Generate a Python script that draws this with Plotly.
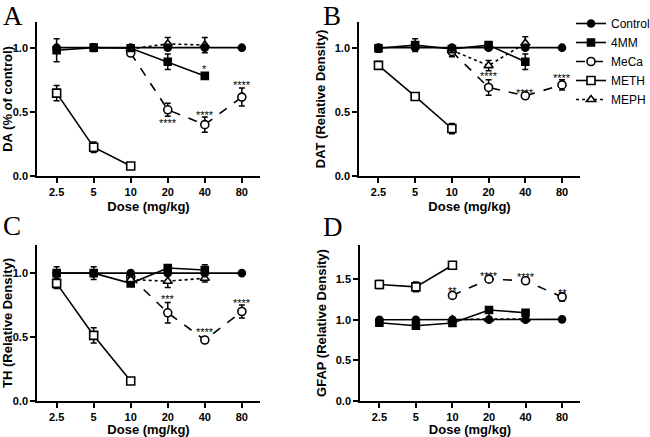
import math
import plotly.graph_objects as go

doses = [2.5, 5, 10, 20, 40, 80]
tick_labels = ["2.5", "5", "10", "20", "40", "80"]
series_names = ["Control", "4MM", "MeCa", "METH", "MEPH"]

# Panel A: DA
A_control = [1.0, 1.0, 1.0, 1.0, 1.0, 1.0]
A_control_err = [0.01, 0.01, 0.01, 0.01, 0.01, 0.01]
A_4mm = [0.98, 1.0, 0.995, 0.89, 0.78, None]
A_4mm_err = [0.09, 0.03, 0.02, 0.06, 0.02, 0]
A_meca = [None, None, 0.958, 0.516, 0.40, 0.615]
A_meca_err = [0, 0, 0.02, 0.05, 0.06, 0.07]
A_meth = [0.646, 0.224, 0.078, None, None, None]
A_meth_err = [0.06, 0.04, 0.01, 0, 0, 0]
A_meph = [None, None, 0.99, 1.03, 1.02, None]
A_meph_err = [0, 0, 0.02, 0.05, 0.06, 0]
A_stars = ["", "", "", "****", "****", "****"]
A_star_y = [None, None, None, 0.44, 0.50, 0.73]
A_4mm_star_y = [None, None, None, None, 0.86, None]
A_4mm_stars = ["", "", "", "", "*", ""]

# Panel B: DAT
B_control = [1.0, 1.0, 1.0, 1.0, 1.0, 1.0]
B_control_err = [0.01, 0.01, 0.01, 0.01, 0.01, 0.01]
B_4mm = [0.995, 1.02, 0.99, 1.02, 0.89, None]
B_4mm_err = [0.03, 0.05, 0.02, 0.02, 0.06, 0]
B_meca = [None, None, 0.97, 0.69, 0.625, 0.71]
B_meca_err = [0, 0, 0.04, 0.06, 0.02, 0.04]
B_meth = [0.862, 0.62, 0.37, None, None, None]
B_meth_err = [0.03, 0.02, 0.04, 0, 0, 0]
B_meph = [None, None, 0.98, 0.86, 1.035, None]
B_meph_err = [0, 0, 0.02, 0.04, 0.05, 0]
B_stars = ["", "", "", "****", "****", "****"]
B_star_y = [None, None, None, 0.80, 0.667, 0.79]

# Panel C: TH
C_control = [1.0, 1.0, 1.0, 1.0, 1.0, 1.0]
C_control_err = [0.01, 0.01, 0.01, 0.01, 0.01, 0.01]
C_4mm = [1.0, 1.0, 0.92, 1.04, 1.025, None]
C_4mm_err = [0.05, 0.05, 0.02, 0.02, 0.04, 0]
C_meca = [None, None, 0.97, 0.69, 0.477, 0.70]
C_meca_err = [0, 0, 0.02, 0.08, 0.01, 0.05]
C_meth = [0.92, 0.513, 0.156, None, None, None]
C_meth_err = [0.04, 0.06, 0.01, 0, 0, 0]
C_meph = [None, None, 0.95, 0.937, 0.96, None]
C_meph_err = [0, 0, 0.02, 0.05, 0.03, 0]
C_stars = ["", "", "", "***", "****", "****"]
C_star_y = [None, None, None, 0.82, 0.56, 0.79]

# Panel D: GFAP
D_control = [1.0, 1.0, 1.0, 1.0, 1.0, 1.005]
D_control_err = [0.01, 0.01, 0.01, 0.01, 0.01, 0.03]
D_4mm = [0.963, 0.926, 0.96, 1.12, 1.087, None]
D_4mm_err = [0.02, 0.03, 0.02, 0.02, 0.02, 0]
D_meca = [None, None, 1.30, 1.50, 1.48, 1.28]
D_meca_err = [0, 0, 0.02, 0.02, 0.03, 0.05]
D_meth = [1.434, 1.405, 1.67, None, None, None]
D_meth_err = [0.05, 0.06, 0.04, 0, 0, 0]
D_meph = [None, None, 1.0, 1.01, 1.01, None]
D_meph_err = [0, 0, 0.02, 0.02, 0.02, 0]
D_stars = ["", "", "**", "****", "****", "**"]
D_star_y = [None, None, 1.39, 1.57, 1.56, 1.37]

panels = [
    dict(letter="A", title="DA (% of control)", ymax=1.2, yticks=[0, 0.5, 1.0],
         data=[(A_control, A_control_err), (A_4mm, A_4mm_err), (A_meca, A_meca_err),
               (A_meth, A_meth_err), (A_meph, A_meph_err)],
         stars=[(A_stars, A_star_y), (A_4mm_stars, A_4mm_star_y)],
         xdom=(37, 260), ydom=(22, 176), letter_xy=(1, -1)),
    dict(letter="B", title="DAT (Relative Density)", ymax=1.2, yticks=[0, 0.5, 1.0],
         data=[(B_control, B_control_err), (B_4mm, B_4mm_err), (B_meca, B_meca_err),
               (B_meth, B_meth_err), (B_meph, B_meph_err)],
         stars=[(B_stars, B_star_y)],
         xdom=(359, 580), ydom=(22, 176), letter_xy=(321, -1)),
    dict(letter="C", title="TH (Relative Density)", ymax=1.22, yticks=[0, 0.5, 1.0],
         data=[(C_control, C_control_err), (C_4mm, C_4mm_err), (C_meca, C_meca_err),
               (C_meth, C_meth_err), (C_meph, C_meph_err)],
         stars=[(C_stars, C_star_y)],
         xdom=(37, 260), ydom=(245, 401), letter_xy=(1, 209)),
    dict(letter="D", title="GFAP (Relative Density)", ymax=1.92, yticks=[0, 0.5, 1.0, 1.5],
         data=[(D_control, D_control_err), (D_4mm, D_4mm_err), (D_meca, D_meca_err),
               (D_meth, D_meth_err), (D_meph, D_meph_err)],
         stars=[(D_stars, D_star_y)],
         xdom=(360, 580), ydom=(245, 401), letter_xy=(321, 210)),
]

W, H = 650, 437
styles = [
    dict(symbol="circle", size=7, fill="black", dash="solid"),
    dict(symbol="square", size=7, fill="black", dash="solid"),
    dict(symbol="circle", size=8, fill="white", dash="dash"),
    dict(symbol="square", size=8, fill="white", dash="solid"),
    dict(symbol="triangle-up", size=8, fill="white", dash="dot"),
]
draw_order = [1, 2, 3, 4, 0]  # Control drawn on top

fig = go.Figure()
xr = [math.log10(2.5) - 0.53 * math.log10(2), math.log10(80) + 0.49 * math.log10(2)]
layout = {}
annotations = []
for i, p in enumerate(panels):
    n = "" if i == 0 else str(i + 1)
    xa, ya = "x" + n, "y" + n
    for j in draw_order:
        vals, errs = p["data"][j]
        st = styles[j]
        fig.add_trace(go.Scatter(
            x=doses, y=vals, xaxis=xa, yaxis=ya, name=series_names[j],
            mode="lines+markers", showlegend=(i == 0), connectgaps=False,
            legendrank=j + 1,
            line=dict(color="black", width=1.6, dash=st["dash"]),
            marker=dict(symbol=st["symbol"], size=st["size"], color=st["fill"],
                        line=dict(color="black", width=1.6)),
            error_y=dict(type="data", array=errs, visible=True, color="black",
                         thickness=1.5, width=3),
        ))
    for labels, ys in p["stars"]:
        for d, t, yv in zip(doses, labels, ys):
            if t and yv is not None:
                annotations.append(dict(x=math.log10(d), y=yv, xref=xa, yref=ya, text=t,
                                        showarrow=False, yanchor="middle", yshift=-3,
                                        font=dict(family="Liberation Sans", size=11, color="black")))
    x0, x1 = p["xdom"]
    y0, y1 = p["ydom"]
    axis_common = dict(showline=True, linecolor="black", linewidth=1.6, ticks="outside",
                       ticklen=5, tickwidth=1.6, tickcolor="black", showgrid=False,
                       zeroline=False, mirror=False, automargin=False,
                       tickfont=dict(family="Liberation Sans", size=11, color="black", weight="bold"))
    layout["xaxis" + n] = dict(axis_common, type="log", range=xr,
                               domain=[x0 / W, x1 / W], anchor=ya,
                               tickvals=doses, ticktext=tick_labels,
                               title=dict(text="Dose (mg/kg)", standoff=5,
                                          font=dict(family="Liberation Sans", size=13,
                                                    color="black", weight="bold")))
    layout["yaxis" + n] = dict(axis_common, range=[0, p["ymax"]],
                               domain=[1 - y1 / H, 1 - y0 / H], anchor=xa,
                               tickvals=p["yticks"], ticktext=["%.1f" % v for v in p["yticks"]],
                               title=dict(text=p["title"], standoff=6,
                                          font=dict(family="Liberation Sans", size=13,
                                                    color="black", weight="bold")))
    lx, ly = p["letter_xy"]
    annotations.append(dict(x=lx / W, y=1 - ly / H, xref="paper", yref="paper",
                            text=p["letter"], showarrow=False, xanchor="left", yanchor="top",
                            font=dict(family="Liberation Serif", size=27, color="black")))

fig.update_layout(**layout)
fig.update_layout(
    template="none",
    width=W, height=H, margin=dict(l=0, r=0, t=0, b=0, autoexpand=False),
    paper_bgcolor="white", plot_bgcolor="white",
    annotations=annotations,
    legend=dict(x=571 / W, y=1 - 9 / H, xanchor="left", yanchor="top",
                font=dict(family="Liberation Sans", size=12, color="black"),
                itemwidth=30, tracegroupgap=0, bgcolor="rgba(0,0,0,0)"),
)
fig.write_html("out.html", config={"displayModeBar": False},
               post_script="document.body.style.margin='0';document.body.style.overflow='hidden';")
